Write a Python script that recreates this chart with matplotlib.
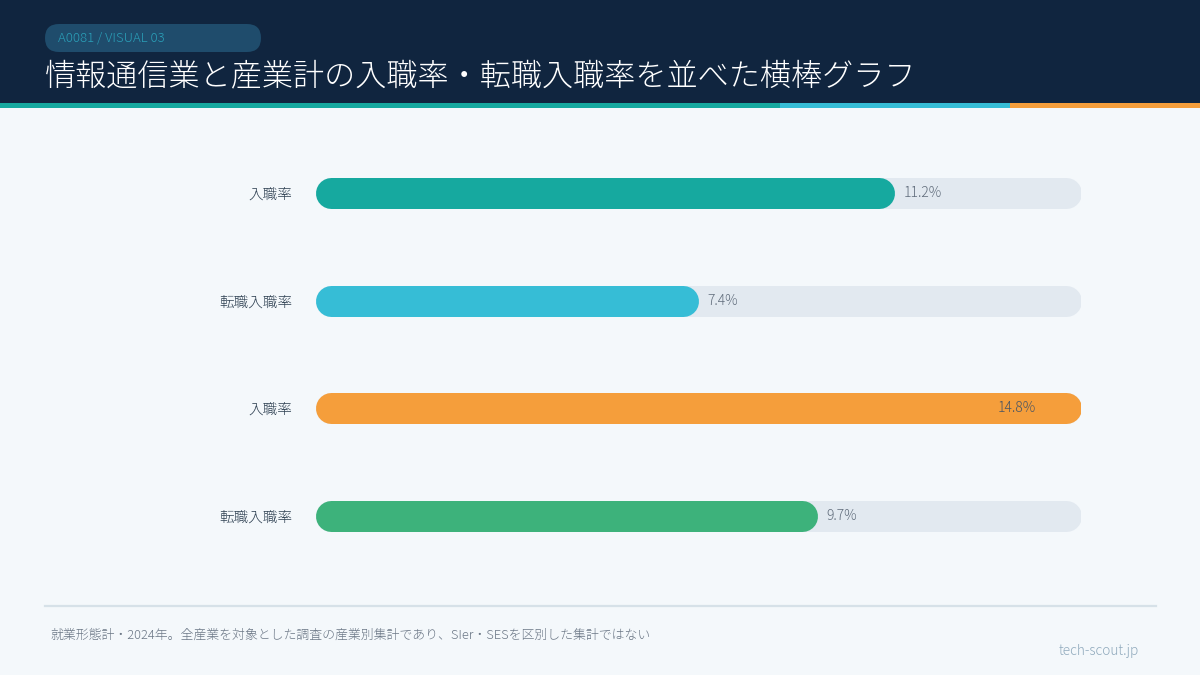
import matplotlib
matplotlib.use('Agg')
import matplotlib.pyplot as plt
from matplotlib.patches import Rectangle, FancyBboxPatch
from matplotlib import transforms

plt.rcParams['font.family'] = ['Noto Sans CJK JP', 'DejaVu Sans']

# data
categories = ['入職率', '転職入職率', '入職率', '転職入職率']
values = [11.2, 7.4, 14.8, 9.7]
value_labels = ['11.2%', '7.4%', '14.8%', '9.7%']
bar_colors = ['#16a99f', '#36bdd6', '#f59e3b', '#3db27b']

title = '情報通信業と産業計の入職率・転職入職率を並べた横棒グラフ'
badge = 'A0081 / VISUAL 03'
note = '就業形態計・2024年。全産業を対象とした調査の産業別集計であり、SIer・SESを区別した集計ではない'
site = 'tech-scout.jp'

W, H = 1200, 675
fig = plt.figure(figsize=(12, 6.75), dpi=100)
fig.patch.set_facecolor('#f4f8fb')

# page decoration in pixel coords
deco = fig.add_axes([0, 0, 1, 1], zorder=0)
deco.set_xlim(0, W)
deco.set_ylim(H, 0)
deco.axis('off')
deco.add_patch(Rectangle((0, 0), W, 103, color='#10253f', lw=0))
deco.add_patch(Rectangle((0, 103), 780, 5, color='#16a99f', lw=0))
deco.add_patch(Rectangle((780, 103), 230, 5, color='#36bdd6', lw=0))
deco.add_patch(Rectangle((1010, 103), 190, 5, color='#f59e3b', lw=0))
deco.add_patch(FancyBboxPatch((45, 24), 216, 28, boxstyle='round,pad=0,rounding_size=14',
                              mutation_aspect=1, color='#1f4c6c', lw=0))
deco.text(58, 38.5, badge, color='#2a9fb8', fontsize=9.5, va='center', ha='left', fontweight='light')
deco.text(45, 76, title, color='white', fontsize=22.4, va='center', ha='left', fontweight='light')
deco.plot([45, 1156], [606, 606], color='#d6e1e8', lw=1.6)
deco.text(50, 635, note, color='#6b7786', fontsize=9.3, va='center', ha='left', fontweight='light')
deco.text(1139, 651, site, color='#8fa9bc', fontsize=9.8, va='center', ha='right', fontweight='light')

# bar chart
ax = fig.add_axes([315 / W, 1 - 569.9 / H, 766 / W, 430.7 / H], zorder=1)
ax.set_facecolor('none')
vmax = max(values)
ax.set_xlim(0, vmax)
ax.set_ylim(len(values) - 0.5, -0.5)
for s in ax.spines.values():
    s.set_visible(False)
ax.set_xticks([])
ys = list(range(len(values)))
ax.set_yticks(ys)
ax.set_yticklabels(categories, fontsize=10.5, color='#2c3e50', fontweight='light')
ax.tick_params(axis='y', length=0, pad=16.5)

bar_px = 31
lw = bar_px * 72 / 100
r = (bar_px / 2) / 766 * vmax  # cap radius in data units

for y, v, lab, c in zip(ys, values, value_labels, bar_colors):
    ax.plot([r, vmax - r], [y, y], color='#e2e9f0', lw=lw, solid_capstyle='round', zorder=1)
    ax.plot([r, v - r], [y, y], color=c, lw=lw, solid_capstyle='round', zorder=2)
    if v >= vmax:
        off = transforms.offset_copy(ax.transData, fig=fig, x=-45, y=0, units='dots')
        ax.text(v, y, lab, transform=off, ha='right', va='center', fontsize=10,
                color='#4a5563', fontweight='light', zorder=3)
    else:
        off = transforms.offset_copy(ax.transData, fig=fig, x=9, y=0, units='dots')
        ax.text(v, y, lab, transform=off, ha='left', va='center', fontsize=10,
                color='#5f6b7a', fontweight='light', zorder=3)

fig.savefig('out.png', dpi=100, facecolor=fig.get_facecolor())
